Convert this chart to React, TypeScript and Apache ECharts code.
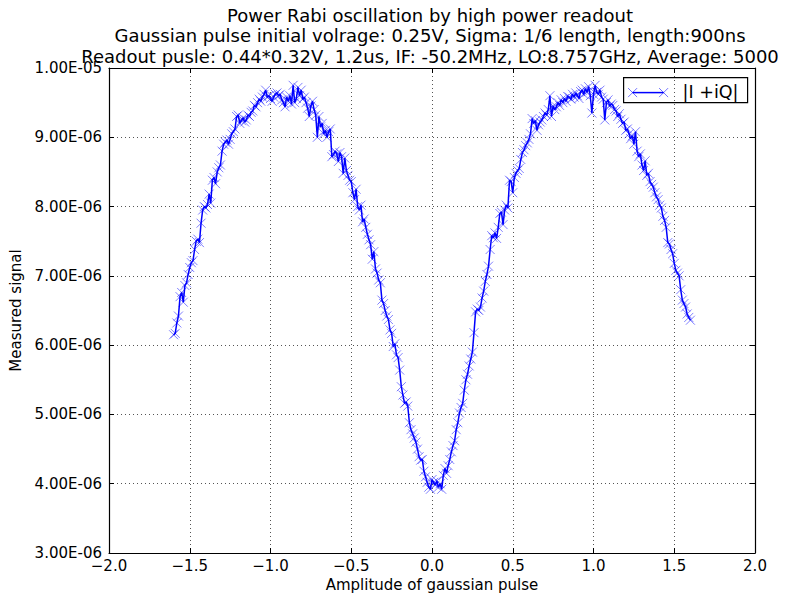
import React, { useEffect, useRef } from 'react';
import * as echarts from 'echarts';

// sweep of the gaussian pulse amplitude, -1.60 .. 1.60 in steps of 0.01
const xStart = -1.6;
const xStep = 0.01;

// measured |I + iQ|, in units of 1e-6
const signalMicro = [
    6.15, 6.17, 6.32, 6.42, 6.70, 6.76, 6.62, 6.86, 6.90, 7.02,
    7.12, 7.19, 7.22, 7.38, 7.50, 7.53, 7.48, 7.76, 7.95, 8.00,
    7.98, 8.03, 8.18, 8.05, 8.38, 8.42, 8.33, 8.50, 8.56, 8.60,
    8.80, 8.90, 8.93, 8.96, 8.90, 8.97, 9.05, 9.08, 9.12, 9.30,
    9.32, 9.20, 9.24, 9.28, 9.22, 9.25, 9.32, 9.30, 9.36, 9.38,
    9.46, 9.44, 9.50, 9.55, 9.52, 9.58, 9.62, 9.68, 9.58, 9.60,
    9.56, 9.52, 9.58, 9.62, 9.64, 9.60, 9.62, 9.54, 9.50, 9.44,
    9.58, 9.52, 9.60, 9.48, 9.75, 9.50, 9.56, 9.72, 9.60, 9.68,
    9.55, 9.58, 9.50, 9.42, 9.30, 9.45, 9.52, 9.40, 9.32, 9.00,
    9.30, 9.15, 9.20, 9.05, 9.10, 9.00, 9.08, 9.12, 8.72, 8.75,
    8.80, 8.76, 8.65, 8.78, 8.72, 8.48, 8.70, 8.52, 8.45, 8.38,
    8.36, 8.20, 8.10, 8.25, 8.00, 7.95, 8.02, 7.78, 7.82, 7.70,
    7.60, 7.52, 7.45, 7.24, 7.35, 7.10, 7.04, 6.94, 6.90, 6.65,
    6.60, 6.50, 6.42, 6.37, 6.22, 6.17, 5.98, 6.02, 5.86, 5.82,
    5.64, 5.40, 5.28, 5.16, 5.18, 5.12, 4.88, 4.78, 4.72, 4.66,
    4.60, 4.50, 4.39, 4.34, 4.35, 4.18, 4.10, 4.02, 3.95, 3.92,
    4.06, 4.02, 3.98, 4.04, 3.95, 4.00, 3.92, 4.12, 4.22, 4.15,
    4.26, 4.35, 4.46, 4.55, 4.62, 4.78, 4.88, 5.02, 5.10, 5.16,
    5.35, 5.50, 5.58, 5.70, 5.80, 5.90, 6.18, 6.48, 6.52, 6.50,
    6.55, 6.68, 6.78, 6.92, 7.02, 7.14, 7.38, 7.58, 7.55, 7.62,
    7.54, 7.70, 7.90, 7.92, 7.74, 7.95, 8.02, 7.98, 8.38, 8.36,
    8.20, 8.42, 8.48, 8.52, 8.55, 8.68, 8.78, 8.82, 8.88, 8.92,
    8.97, 9.05, 9.27, 9.20, 9.24, 9.10, 9.18, 9.22, 9.25, 9.30,
    9.35, 9.32, 9.40, 9.60, 9.30, 9.45, 9.40, 9.44, 9.50, 9.46,
    9.54, 9.50, 9.56, 9.52, 9.59, 9.58, 9.55, 9.62, 9.58, 9.64,
    9.60, 9.56, 9.66, 9.68, 9.62, 9.70, 9.65, 9.73, 9.60, 9.35,
    9.62, 9.75, 9.65, 9.62, 9.68, 9.58, 9.55, 9.25, 9.50, 9.54,
    9.45, 9.48, 9.46, 9.40, 9.38, 9.30, 9.34, 9.26, 9.20, 9.22,
    9.10, 9.12, 9.05, 8.98, 9.02, 8.90, 9.08, 8.80, 8.72, 8.76,
    8.60, 8.52, 8.66, 8.45, 8.48, 8.36, 8.32, 8.28, 8.20, 8.14,
    8.10, 8.02, 7.98, 7.86, 7.80, 7.70, 7.48, 7.46, 7.38, 7.32,
    7.18, 7.08, 7.04, 7.00, 6.80, 6.65, 6.60, 6.55, 6.45, 6.40,
    6.36,
];

const titleLines = [
    'Power Rabi oscillation by high power readout',
    'Gaussian pulse initial volrage: 0.25V, Sigma: 1/6 length, length:900ns',
    'Readout pusle: 0.44*0.32V, 1.2us, IF: -50.2MHz, LO:8.757GHz, Average: 5000',
];
const seriesName = '|I +iQ|';

const FONT = 'DejaVu Sans';
const BLUE = '#0000ff';
const CROSS = 'path://M0 0L10 10M10 0L0 10';

function yLabel(v: number) {
    // 7 -> "7.00E-06", 10 -> "1.00E-05"
    const [m, e] = (v * 1e-6).toExponential(2).split('e');
    const exp = Number(e);
    const sign = exp < 0 ? '-' : '+';
    return `${m}E${sign}${String(Math.abs(exp)).padStart(2, '0')}`;
}

function xLabel(v: number) {
    return v.toFixed(1).replace('-', '\u2212');
}

export default function App() {
    const chartRef = useRef<HTMLDivElement>(null);

    useEffect(() => {
        document.body.style.margin = '0';
        const chart = echarts.init(chartRef.current!, undefined, { renderer: 'svg' });

        const points = signalMicro.map((v, i) => [+(xStart + i * xStep).toFixed(2), v]);

        const tickStyle = { inside: true, length: 5, lineStyle: { color: '#000', width: 1 } };
        const frame = { show: true, onZero: false, lineStyle: { color: '#000', width: 1.2 } };
        const dotted = { show: true, lineStyle: { color: '#555', type: [1, 3], width: 1 } };

        chart.setOption({
            animation: false,
            backgroundColor: '#fff',
            title: {
                text: titleLines.join('\n'),
                left: 430,
                top: 5,
                padding: 0,
                textAlign: 'center',
                textStyle: {
                    fontFamily: FONT,
                    fontSize: 18,
                    fontWeight: 'normal',
                    color: '#000',
                    lineHeight: 20.5,
                },
            },
            grid: { left: 103, right: 38, top: 68, bottom: 47, containLabel: false },
            xAxis: [
                {
                    type: 'value',
                    min: -2,
                    max: 2,
                    interval: 0.5,
                    name: 'Amplitude of gaussian pulse',
                    nameLocation: 'middle',
                    nameGap: 23,
                    nameTextStyle: { fontFamily: FONT, fontSize: 15, color: '#000' },
                    axisLine: frame,
                    axisTick: tickStyle,
                    axisLabel: { fontFamily: FONT, fontSize: 15, color: '#000', margin: 5, formatter: xLabel },
                    splitLine: dotted,
                },
                {
                    type: 'value',
                    position: 'top',
                    min: -2,
                    max: 2,
                    interval: 0.5,
                    axisLine: frame,
                    axisTick: tickStyle,
                    axisLabel: { show: false },
                    splitLine: { show: false },
                },
            ],
            yAxis: [
                {
                    type: 'value',
                    min: 3,
                    max: 10,
                    interval: 1,
                    name: 'Measured signal',
                    nameLocation: 'middle',
                    nameRotate: 90,
                    nameGap: 86,
                    nameTextStyle: { fontFamily: FONT, fontSize: 15, color: '#000' },
                    axisLine: frame,
                    axisTick: tickStyle,
                    axisLabel: { fontFamily: FONT, fontSize: 15, color: '#000', margin: 7, formatter: yLabel },
                    splitLine: dotted,
                },
                {
                    type: 'value',
                    position: 'right',
                    min: 3,
                    max: 10,
                    interval: 1,
                    axisLine: frame,
                    axisTick: tickStyle,
                    axisLabel: { show: false },
                    splitLine: { show: false },
                },
            ],
            legend: { show: false },
            graphic: [
                {
                    type: 'group',
                    left: 623,
                    top: 77,
                    children: [
                        {
                            type: 'rect',
                            shape: { x: 0, y: 0, width: 124, height: 25 },
                            style: { fill: '#fff', stroke: '#000', lineWidth: 1.2 },
                        },
                        {
                            type: 'line',
                            shape: { x1: 9, y1: 15, x2: 40, y2: 15 },
                            style: { stroke: BLUE, lineWidth: 1.5 },
                        },
                        ...[9, 40].flatMap((cx) => [
                            {
                                type: 'line',
                                shape: { x1: cx - 4.5, y1: 10.5, x2: cx + 4.5, y2: 19.5 },
                                style: { stroke: 'rgba(0,0,255,0.55)', lineWidth: 1 },
                            },
                            {
                                type: 'line',
                                shape: { x1: cx - 4.5, y1: 19.5, x2: cx + 4.5, y2: 10.5 },
                                style: { stroke: 'rgba(0,0,255,0.55)', lineWidth: 1 },
                            },
                        ]),
                        {
                            type: 'text',
                            x: 59,
                            y: 14,
                            style: {
                                text: seriesName,
                                fontFamily: FONT,
                                fontSize: 17.5,
                                fill: '#000',
                                verticalAlign: 'middle',
                            },
                        },
                    ],
                },
            ],
            series: [
                {
                    name: seriesName,
                    type: 'line',
                    xAxisIndex: 0,
                    yAxisIndex: 0,
                    data: points,
                    symbol: CROSS,
                    symbolSize: 9,
                    showAllSymbol: true,
                    lineStyle: { color: BLUE, width: 1.5 },
                    itemStyle: { color: 'none', borderColor: 'rgba(0,0,255,0.5)', borderWidth: 1 },
                    emphasis: { disabled: true },
                },
            ],
        });

        return () => {
            chart.dispose();
        };
    }, []);

    return <div ref={chartRef} style={{ width: 793, height: 600 }} />;
}
